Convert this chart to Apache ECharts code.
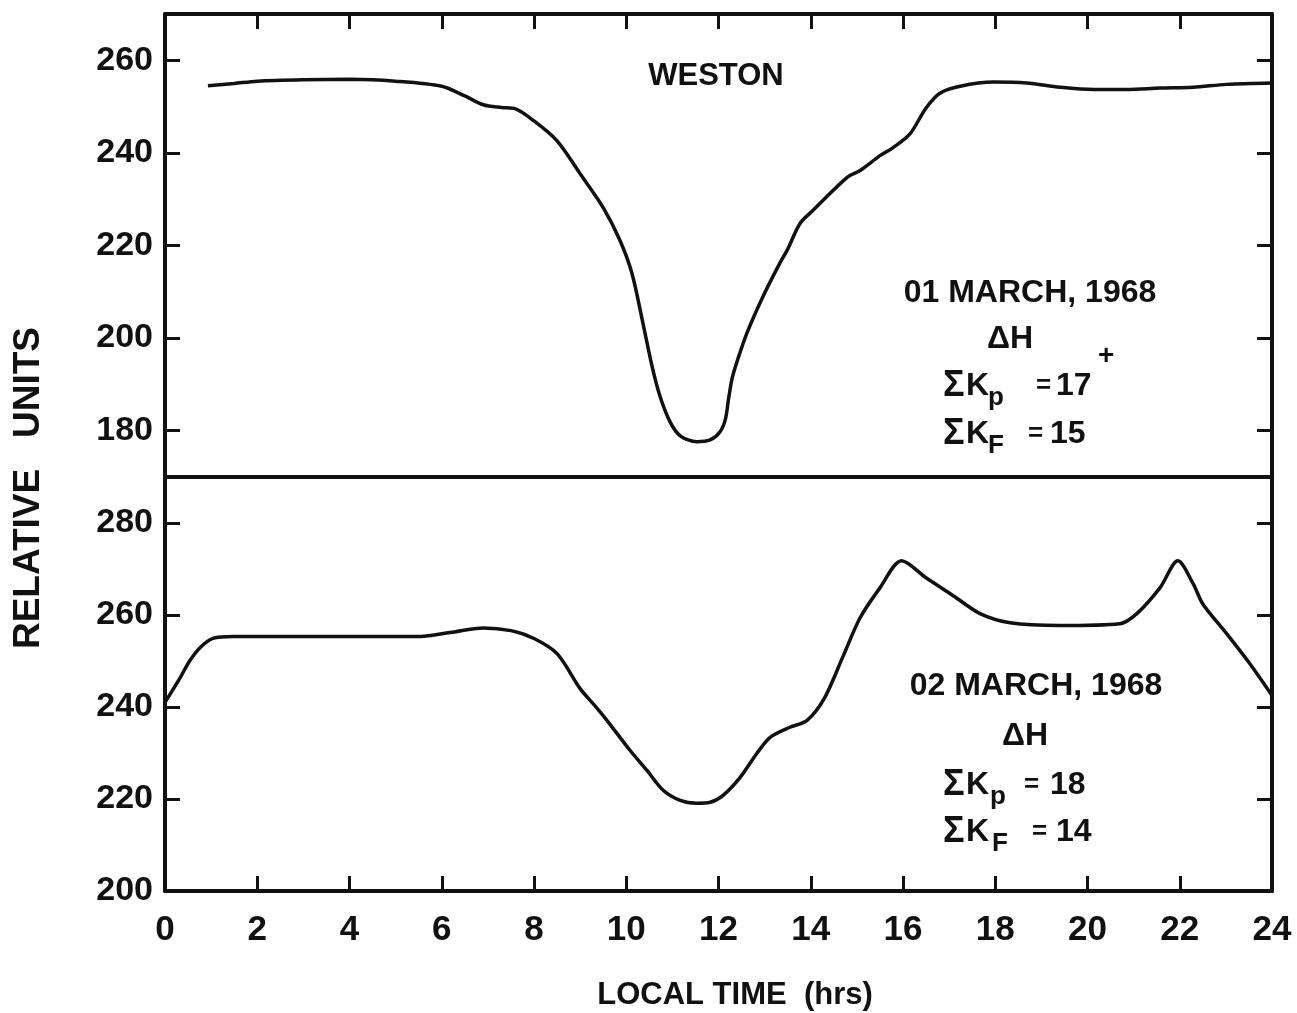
<!DOCTYPE html>
<html><head><meta charset="utf-8">
<script src="https://cdn.jsdelivr.net/npm/echarts@6/dist/echarts.min.js"></script>
<style>html,body{margin:0;padding:0;background:#fff}#c{width:1297px;height:1013px}</style>
</head><body><div id="c"></div>
<script>
// ---- data ----
const hoursMar01 = [0.93,1.5,2,3,4,5,6,6.5,6.9,7.3,7.6,8,8.5,9,9.5,9.86,10.12,10.36,10.56,10.73,10.95,11.17,11.53,11.82,12.03,12.15,12.22,12.3,12.42,12.62,12.96,13.33,13.49,13.77,14.05,14.79,15.07,15.5,15.78,16.15,16.5,16.8,17.24,17.96,18.68,19.4,20.13,20.85,21.57,22.29,23.02,24];
const valuesMar01 = [254.5,255.0,255.5,255.8,255.9,255.5,254.4,252.3,250.4,249.8,249.5,246.9,242.6,235.5,228.2,221.2,214.1,203.3,193.9,187.5,181.9,178.9,177.6,178.0,179.7,182.5,187.0,191.5,195.5,201.2,208.9,216.2,219.0,224.8,227.6,234.7,236.2,239.4,241.1,244.1,249.7,252.9,254.4,255.3,255.1,254.2,253.7,253.7,254.0,254.2,254.8,255.1];
const hoursMar02 = [0,0.33,0.54,0.76,1.04,1.48,3.6,5.46,6.18,6.9,7.5,8,8.5,9,9.3,9.58,10.08,10.45,10.8,11.17,11.53,11.82,12.1,12.47,12.83,13.12,13.55,13.92,14.3,14.7,15.07,15.5,15.97,16.5,17.09,17.67,18.32,19.4,20.7,21.07,21.57,21.96,22.29,22.5,23.02,23.52,24];
const valuesMar02 = [241.0,246.4,250.1,252.9,254.9,255.3,255.3,255.3,256.2,257.2,256.6,254.9,251.6,244.0,240.5,237.1,230.6,226.2,221.9,219.7,219.1,219.3,220.8,224.7,229.9,233.4,235.6,237.1,242.0,251.0,259.4,265.9,271.8,268.1,264.2,260.3,258.3,257.7,258.1,260.3,265.9,271.8,266.8,262.4,255.9,249.4,242.5];
const xTickLabels = [0,2,4,6,8,10,12,14,16,18,20,22,24];
const yTicksTop = [180,200,220,240,260];
const yTicksBottom = [200,220,240,260,280];

// ---- styling ----
const BLACK = '#111';
const FONT = '"Liberation Sans", Arial, sans-serif';

const chart = echarts.init(document.getElementById('c'), null, {renderer: 'canvas'});

function xAx(grid, pos, ticks, labels) {
  return {
    type: 'value', gridIndex: grid, position: pos, min: 0, max: 24, interval: 2,
    axisLine: {show: true, onZero: false, lineStyle: {color: BLACK, width: 4}},
    axisTick: {show: ticks, inside: true, length: 15, lineStyle: {color: BLACK, width: 3}},
    axisLabel: {show: labels, margin: 22, color: BLACK, fontSize: 35, fontWeight: 'bold', fontFamily: FONT,
      customValues: xTickLabels},
    splitLine: {show: false}
  };
}
function yAx(grid, pos, ticks, min, max, labels) {
  return {
    type: 'value', gridIndex: grid, position: pos, min: min, max: max,
    axisLine: {show: true, onZero: false, lineStyle: {color: BLACK, width: 4}},
    axisTick: {show: true, inside: true, length: 15, customValues: ticks, lineStyle: {color: BLACK, width: 3}},
    axisLabel: {show: labels, customValues: ticks, margin: 12, color: BLACK, fontSize: 34, fontWeight: 'bold', fontFamily: FONT},
    splitLine: {show: false}
  };
}
function T(text, x, y, size, o) {
  o = o || {};
  const font = (o.weight || 'bold') + ' ' + size + 'px ' + (o.family || FONT);
  const al = o.align || 'left';
  return {type: 'text', x: x, y: y, rotation: o.rot || 0, silent: true, z: 10,
    style: {text: text, fill: BLACK, font: font, align: al, verticalAlign: 'middle',
            textAlign: al, textVerticalAlign: 'middle'}};
}

const pairs = (hs, vs) => hs.map((h, i) => [h, vs[i]]);

const graphics = [
  T('WESTON', 716, 76, 31, {align: 'center'}),
  // 01 March block
  T('01 MARCH, 1968', 1030, 293, 32, {align: 'center'}),
  T('\u0394H', 1010, 339, 32, {align: 'center'}),
  T('\u03A3', 943, 386, 36),
  T('K', 966, 386, 32),
  T('p', 988, 398, 26),
  T('=', 1036, 386, 26),
  T('17', 1056, 386, 32),
  T('+', 1098, 356, 28),
  T('\u03A3', 943, 434, 36),
  T('K', 966, 434, 32),
  T('F', 988, 446, 26),
  T('=', 1028, 434, 26),
  T('15', 1050, 434, 32),
  // 02 March block
  T('02 MARCH, 1968', 1036, 686, 32, {align: 'center'}),
  T('\u0394H', 1025, 736, 32, {align: 'center'}),
  T('\u03A3', 943, 785, 36),
  T('K', 966, 785, 32),
  T('p', 990, 797, 26),
  T('=', 1024, 785, 26),
  T('18', 1050, 785, 32),
  T('\u03A3', 943, 832, 36),
  T('K', 966, 832, 32),
  T('F', 992, 844, 26),
  T('=', 1032, 832, 26),
  T('14', 1056, 832, 32),
  // axis titles
  T('RELATIVE   UNITS', 29, 488, 37, {align: 'center', rot: Math.PI / 2}),
  T('LOCAL TIME  (hrs)', 735, 995, 31, {align: 'center'})
];

chart.setOption({
  animation: false,
  backgroundColor: '#fff',
  grid: [
    {left: 165, top: 14, width: 1107, height: 463, containLabel: false},
    {left: 165, top: 477, width: 1107, height: 414, containLabel: false}
  ],
  xAxis: [
    xAx(0, 'bottom', false, false),
    xAx(0, 'top', true, false),
    xAx(1, 'bottom', true, true)
  ],
  yAxis: [
    yAx(0, 'left', yTicksTop, 170, 270, true),
    yAx(0, 'right', yTicksTop, 170, 270, false),
    yAx(1, 'left', yTicksBottom, 200, 290, true),
    yAx(1, 'right', yTicksBottom, 200, 290, false)
  ],
  series: [
    {type: 'line', xAxisIndex: 0, yAxisIndex: 0, data: pairs(hoursMar01, valuesMar01),
     smooth: 0.3, showSymbol: false, lineStyle: {color: BLACK, width: 3.5}, z: 5},
    {type: 'line', xAxisIndex: 2, yAxisIndex: 2, data: pairs(hoursMar02, valuesMar02),
     smooth: 0.3, showSymbol: false, lineStyle: {color: BLACK, width: 3.5}, z: 5}
  ],
  graphic: graphics
});
</script>
</body></html>
